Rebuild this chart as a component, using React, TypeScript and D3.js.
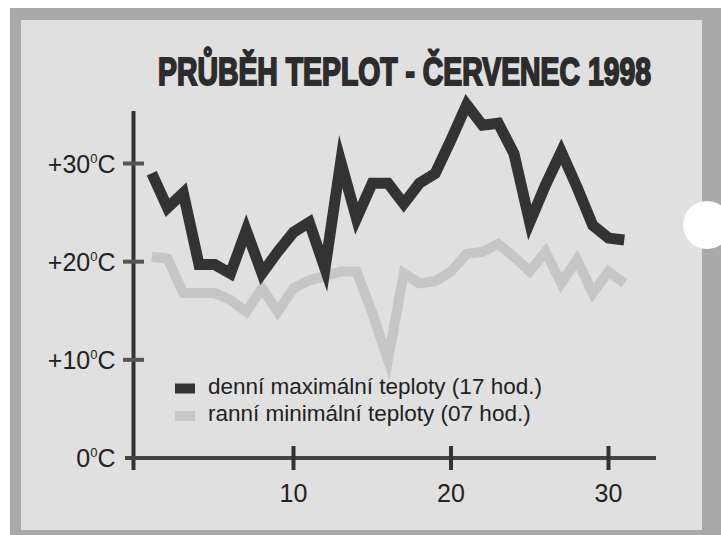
import React, { useLayoutEffect, useRef, useState } from "react";
import * as d3 from "d3";

const days: number[] = Array.from({ length: 31 }, (_, i) => i + 1);
const maxTemps: number[] = [29, 25.5, 27, 19.7, 19.7, 18.8, 23.2, 18.8, 21, 23, 24, 19.3, 30.2, 24.4, 28, 28, 25.9, 28, 29, 32.4, 36, 33.9, 34.1, 31, 24, 27.8, 31.2, 27.6, 23.7, 22.4, 22.2];
const minTemps: number[] = [20.5, 20.3, 16.8, 16.8, 16.8, 16.1, 14.9, 17.3, 14.9, 17.3, 18.1, 18.5, 19, 19, 14.8, 10, 18.8, 17.8, 18, 19, 20.8, 21, 21.8, 20.5, 19, 21, 17.8, 20.2, 16.8, 19, 17.8];
const yTicks: number[] = [0, 10, 20, 30];
const xTicks: number[] = [10, 20, 30];
const seriesLabels: string[] = ["denní maximální teploty (17 hod.)", "ranní minimální teploty (07 hod.)"];
const title = "PRŮBĚH TEPLOT - ČERVENEC 1998";

const W = 721;
const H = 535;
const DARK = "#333333";
const LIGHT = "#c6c6c6";
const TITLE_W = 493;

export default function App() {
  const x = d3.scaleLinear().domain([0, 31]).range([136, 624.25]);
  const y = d3.scaleLinear().domain([0, 30]).range([458, 163.5]);
  const line = d3
    .line<number>()
    .x((_, i) => x(days[i]))
    .y((v) => y(v));

  const titleRef = useRef<SVGTextElement>(null);
  const [titleScale, setTitleScale] = useState(0.8);
  useLayoutEffect(() => {
    const el = titleRef.current;
    if (el) {
      const w = el.getComputedTextLength();
      if (w > 0) setTitleScale(TITLE_W / w);
    }
  }, []);

  const axisX = 133.5;
  const font = "'Liberation Sans', Arial, Helvetica, sans-serif";

  return (
    <svg
      width={W}
      height={H}
      style={{ position: "absolute", left: 0, top: 0, display: "block" }}
    >
      <rect x={0} y={0} width={W} height={H} fill="#ffffff" />
      <rect x={10} y={8} width={W - 10} height={H - 8} fill="#a9a9a9" />
      <rect x={21} y={20} width={702 - 21} height={530 - 20} fill="#e0e0e0" />
      <circle cx={707} cy={225} r={24} fill="#ffffff" />

      <g transform={`translate(158,85) scale(${titleScale},1)`}>
        <text
          ref={titleRef}
          x={0}
          y={0}
          fontFamily="'Liberation Sans Narrow', 'Liberation Sans', Arial, sans-serif"
          fontWeight="bold"
          fontSize={39}
          fill="#2c2c2c"
          stroke="#2c2c2c"
          strokeWidth={2}
        >
          {title}
        </text>
      </g>

      {/* axes */}
      <line x1={axisX} y1={111} x2={axisX} y2={470} stroke={DARK} strokeWidth={4} />
      <line x1={125} y1={y(0)} x2={656} y2={y(0)} stroke="#444" strokeWidth={4} />
      {yTicks.filter((t) => t > 0).map((t) => (
        <line key={"yt" + t} x1={123} y1={y(t)} x2={144} y2={y(t)} stroke="#555" strokeWidth={4} />
      ))}
      {xTicks.map((t) => (
        <line key={"xt" + t} x1={x(t)} y1={446} x2={x(t)} y2={470} stroke={DARK} strokeWidth={4} />
      ))}

      {yTicks.map((t) => (
        <text
          key={"yl" + t}
          x={115.5}
          y={y(t) + 9}
          textAnchor="end"
          fontFamily={font}
          fontSize={25}
          fill="#222"
        >
          {(t > 0 ? "+" : "") + t}
          <tspan fontSize={13} dy={-10}>0</tspan>
          <tspan dy={10}>C</tspan>
        </text>
      ))}
      {xTicks.map((t) => (
        <text
          key={"xl" + t}
          x={x(t)}
          y={502}
          textAnchor="middle"
          fontFamily={font}
          fontSize={25}
          fill="#222"
        >
          {t}
        </text>
      ))}

      {/* series */}
      <path
        d={line(minTemps) || ""}
        fill="none"
        stroke={LIGHT}
        strokeWidth={10}
        strokeLinejoin="miter"
        strokeMiterlimit={10}
        strokeLinecap="butt"
      />
      <path
        d={line(maxTemps) || ""}
        fill="none"
        stroke={DARK}
        strokeWidth={11}
        strokeLinejoin="miter"
        strokeMiterlimit={10}
        strokeLinecap="butt"
      />

      {/* legend */}
      <rect x={175} y={383.5} width={20} height={10} fill={DARK} />
      <text x={208} y={393.5} fontFamily={font} fontSize={22.5} fill="#222">
        {seriesLabels[0]}
      </text>
      <rect x={175} y={411} width={20} height={10} fill={LIGHT} />
      <text x={208} y={421} fontFamily={font} fontSize={22.5} fill="#222">
        {seriesLabels[1]}
      </text>
    </svg>
  );
}
